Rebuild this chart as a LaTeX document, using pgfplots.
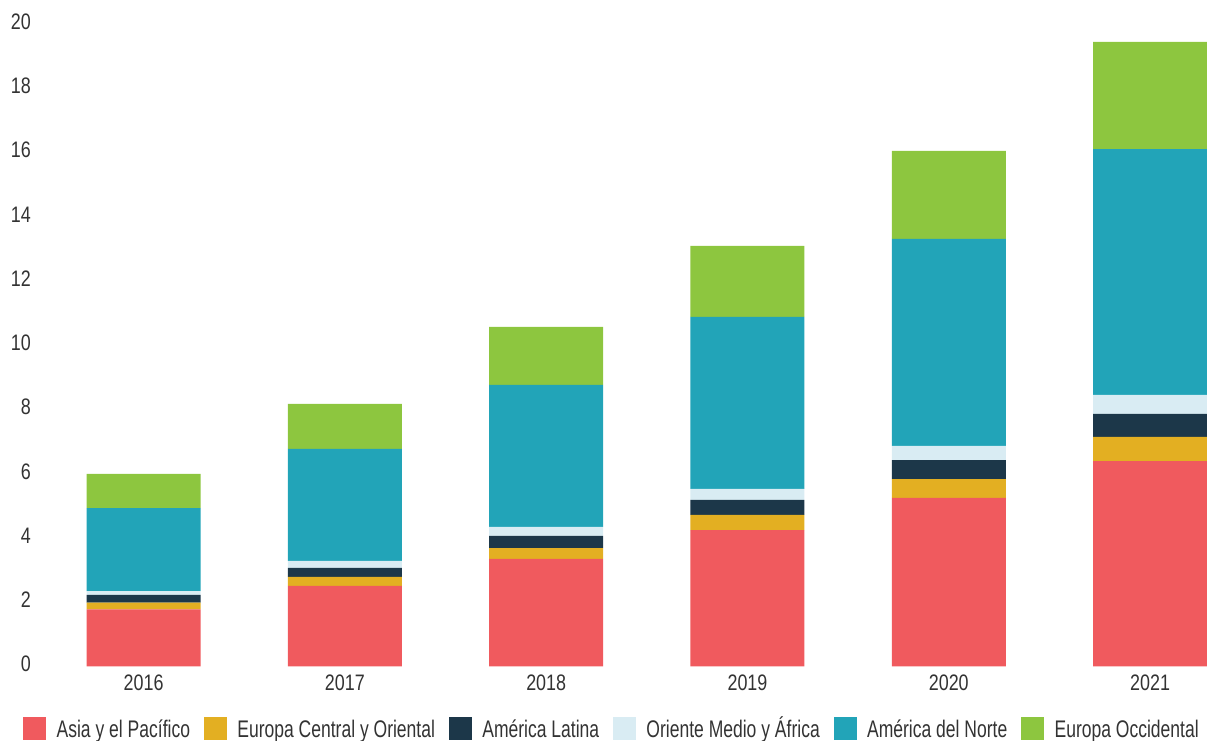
\documentclass[border=0pt]{standalone}
\usepackage{pgfplots}
\pgfplotsset{compat=1.18}
\usepackage{fontspec}
\setmainfont[FakeStretch=0.8]{Liberation Sans}
\newfontfamily\legfont[FakeStretch=0.73]{Liberation Sans}
\definecolor{cRed}{HTML}{F05A5E}
\definecolor{cYel}{HTML}{E3AF22}
\definecolor{cDark}{HTML}{1C3749}
\definecolor{cLb}{HTML}{D9ECF3}
\definecolor{cTeal}{HTML}{22A4B8}
\definecolor{cGreen}{HTML}{8DC63F}
\definecolor{txt}{HTML}{333333}
\begin{document}
\begin{tikzpicture}
\begin{axis}[
  name=ax,
  scale only axis,
  width=582pt, height=321pt,
  xmin=-0.5, xmax=5.283,
  ymin=0, ymax=20,
  ytick={0,2,...,20},
  xtick={0,1,2,3,4,5},
  xticklabels={2016,2017,2018,2019,2020,2021},
  axis lines=left,
  axis line style={draw=none},
  tick style={draw=none},
  major tick length=0pt,
  ybar stacked,
  bar width=57pt,
  font=\fontsize{11.2}{13}\selectfont\color{txt},
  ticklabel style={font=\fontsize{11.2}{13}\selectfont, text=txt, inner sep=0pt},
  /pgf/number format/assume math mode=true,
  yticklabel style={anchor=east, xshift=-5.85pt, yshift=1.3pt},
  xticklabel style={anchor=center, yshift=-7.9pt},
  legend columns=6,
  legend style={at={(0.488,0)}, anchor=center, yshift=-31.25pt, draw=none, fill=none,
    inner sep=0pt, font=\legfont\fontsize{12}{14}\selectfont, text=txt,
    nodes={inner sep=0pt, text height=8.6pt, text depth=0pt},
    /tikz/every odd column/.append style={column sep=5.15pt},
    /tikz/every even column/.append style={column sep=7pt}},
  legend image code/.code={\fill[#1] (0pt,-5.75pt) rectangle (11.5pt,5.75pt);},
  every axis plot/.append style={draw=none},
]
\addplot[fill=cRed] coordinates {(0,1.78) (1,2.51) (2,3.35) (3,4.25) (4,5.25) (5,6.40)};
\addplot[fill=cYel] coordinates {(0,0.21) (1,0.28) (2,0.34) (3,0.47) (4,0.59) (5,0.75)};
\addplot[fill=cDark] coordinates {(0,0.24) (1,0.28) (2,0.38) (3,0.47) (4,0.59) (5,0.72)};
\addplot[fill=cLb] coordinates {(0,0.12) (1,0.22) (2,0.28) (3,0.34) (4,0.44) (5,0.59)};
\addplot[fill=cTeal] coordinates {(0,2.58) (1,3.49) (2,4.42) (3,5.36) (4,6.45) (5,7.66)};
\addplot[fill=cGreen] coordinates {(0,1.07) (1,1.40) (2,1.81) (3,2.21) (4,2.74) (5,3.34)};
\legend{Asia y el Pacífico, Europa Central y Oriental, América Latina, Oriente Medio y África, América del Norte, Europa Occidental}
\end{axis}
\pgfresetboundingbox
\path ([xshift=-21.5pt, yshift=-37.25pt]ax.south west) rectangle ([yshift=12.25pt]ax.north east);
\end{tikzpicture}
\end{document}
